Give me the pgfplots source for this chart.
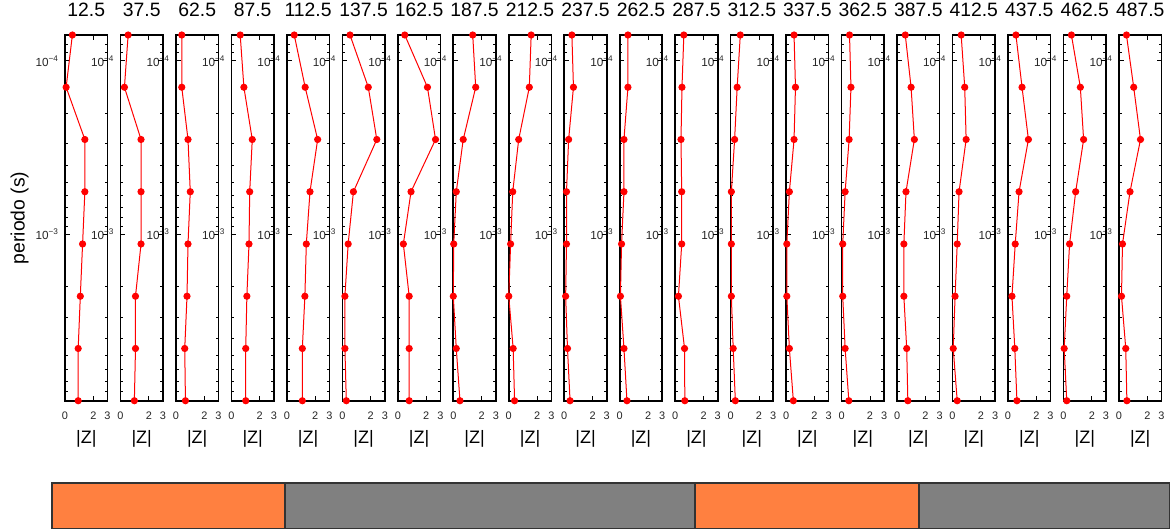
\documentclass[border=0pt]{standalone}
\usepackage{fontspec}
\setmainfont{Liberation Sans}
\usepackage{pgfplots}
\usepackage{pgfplotstable}
\pgfplotsset{compat=1.18}
\definecolor{barorange}{RGB}{255,128,64}
\definecolor{bargray}{RGB}{128,128,128}

\pgfplotstableread{
T          p1   p2   p3   p4   p5   p6   p7   p8   p9   p10  p11  p12  p13  p14  p15  p16  p17  p18  p19  p20
7.1023e-5  0.52 0.54 0.41 0.62 0.52 0.54 0.49 1.37 1.58 0.54 0.58 0.61 0.68 0.56 0.56 0.58 0.61 0.56 0.56 0.53
1.42045e-4 0.08 0.28 0.41 0.88 1.29 1.83 2.09 1.58 1.45 0.65 0.58 0.48 0.46 0.66 0.66 0.99 0.86 0.99 1.19 1.04
2.84091e-4 1.40 1.45 0.85 1.47 2.17 2.43 2.66 0.70 0.70 0.31 0.30 0.41 0.28 0.56 0.53 1.22 0.96 1.44 1.42 1.52
5.68182e-4 1.40 1.45 1.01 1.29 1.63 0.78 0.93 0.21 0.28 0.16 0.30 0.46 0.05 0.23 0.25 0.63 0.46 0.78 0.86 0.78
1.13636e-3 1.24 1.45 0.85 1.24 1.37 0.41 0.39 0.03 0.13 0.16 0.13 0.46 0.05 0.05 0.08 0.48 0.33 0.51 0.43 0.25
2.27273e-3 1.08 1.06 0.78 1.09 1.27 0.18 0.80 0.00 0.00 0.10 0.05 0.23 0.05 0.05 0.08 0.48 0.18 0.28 0.23 0.18
4.54545e-3 0.93 1.06 0.62 1.01 1.09 0.18 0.80 0.21 0.31 0.23 0.30 0.66 0.18 0.23 0.25 0.68 0.05 0.48 0.05 0.48
9.09091e-3 0.93 0.98 0.67 1.01 1.09 0.28 0.80 0.47 0.41 0.41 0.51 0.68 0.33 0.51 0.51 0.76 0.33 0.63 0.23 0.56
}\data

\newcommand\panel[4]{%
\begin{axis}[ymode=log, anchor=south west, scale only axis, width=31.9pt, height=274.3pt,
  at={(#1pt,96.2pt)}, title={#2},
  xmin=0, xmax=3, ymin=7.1023e-5, ymax=9.09091e-3, y dir=reverse,
  xtick={0,2,3}, xticklabels={0,2,3},
  ytick={1e-4,1e-3}, yticklabels={10\textsuperscript{−4},10\textsuperscript{−3}},
  minor ytick={8e-5,9e-5,2e-4,3e-4,4e-4,5e-4,6e-4,7e-4,8e-4,9e-4,2e-3,3e-3,4e-3,5e-3,6e-3,7e-3,8e-3,9e-3},
  tick pos=both, tick align=inside,
  major tick length=3.5pt, minor tick length=2pt,
  axis line style={line width=1.2pt},
  every tick/.style={black, line width=0.6pt},
  xticklabel style={font=\fontsize{8.2}{9}\selectfont, text=black!85, yshift=-4.8pt},
  yticklabel style={font=\fontsize{8.8}{10}\selectfont, text=black!85, xshift=-1.2pt},
  title style={font=\fontsize{14.5}{16}\selectfont, at={(axis description cs:0.5,1)}, anchor=base, yshift=7.5pt},
  xlabel={|Z|},
  xlabel style={font=\fontsize{13.5}{15}\selectfont, at={(axis description cs:0.5,0)}, anchor=base, yshift=-32.2pt},
  clip=false, #4]
\addplot[red, line width=0.75pt, mark=*, mark size=2.3pt, mark options={solid, fill=red, draw=red}] table[x=#3, y=T] {\data};
\end{axis}}

\begin{document}
\begin{tikzpicture}
\useasboundingbox (0,0) rectangle (877.5pt,396.75pt);
\panel{839.20}{487.5}{p20}{}
\panel{797.60}{462.5}{p19}{}
\panel{755.99}{437.5}{p18}{}
\panel{714.39}{412.5}{p17}{}
\panel{672.79}{387.5}{p16}{}
\panel{631.19}{362.5}{p15}{}
\panel{589.58}{337.5}{p14}{}
\panel{547.98}{312.5}{p13}{}
\panel{506.38}{287.5}{p12}{}
\panel{464.78}{262.5}{p11}{}
\panel{423.17}{237.5}{p10}{}
\panel{381.57}{212.5}{p9}{}
\panel{339.97}{187.5}{p8}{}
\panel{298.37}{162.5}{p7}{}
\panel{256.76}{137.5}{p6}{}
\panel{215.16}{112.5}{p5}{}
\panel{173.56}{87.5}{p4}{}
\panel{131.96}{62.5}{p3}{}
\panel{90.35}{37.5}{p2}{}
\panel{48.75}{12.5}{p1}{ylabel={periodo (s)}, ylabel style={font=\fontsize{14.5}{16}\selectfont, at={(axis description cs:-0.947,0.5)}, anchor=base}}

\begin{axis}[at={(39pt,0.4pt)}, anchor=south west, scale only axis,
  width=838.5pt, height=34.1pt, xmin=0, xmax=500, ymin=0, ymax=1,
  hide axis, clip=false]
\addplot[fill=barorange, draw=black!80, line width=0.9pt] coordinates {(0,0) (104.2,0) (104.2,1) (0,1)} -- cycle;
\addplot[fill=bargray, draw=black!80, line width=0.9pt] coordinates {(104.2,0) (287.6,0) (287.6,1) (104.2,1)} -- cycle;
\addplot[fill=barorange, draw=black!80, line width=0.9pt] coordinates {(287.6,0) (387.7,0) (387.7,1) (287.6,1)} -- cycle;
\addplot[fill=bargray, draw=black!80, line width=0.9pt] coordinates {(387.7,0) (500,0) (500,1) (387.7,1)} -- cycle;
\end{axis}
\end{tikzpicture}
\end{document}
